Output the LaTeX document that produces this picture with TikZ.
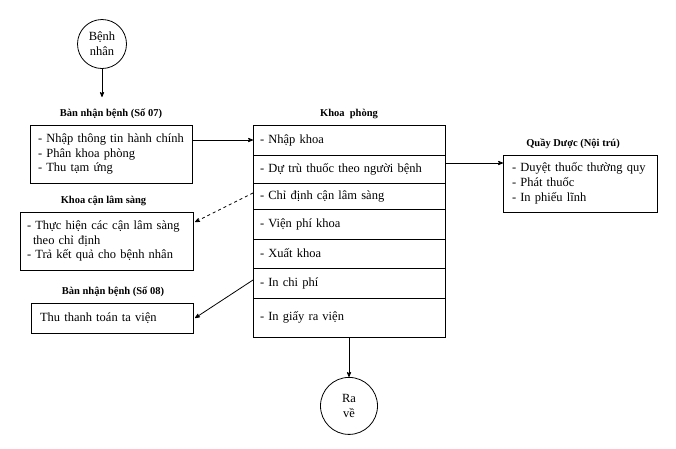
\documentclass[tikz,border=0pt]{standalone}
\usepackage{fontspec}
\setmainfont{Liberation Serif}
\usetikzlibrary{arrows, positioning}
\tikzset{>=stealth', font=\fontsize{12.5}{14.8}\selectfont}

\begin{document}
\begin{tikzpicture}[x=1pt,y=-1pt,line width=0.8pt,
                node distance=5pt]
\tikzstyle{circ}=[draw,circle,inner sep=0pt,align=center]
\tikzstyle{lbl}=[font=\fontsize{10.5}{12}\selectfont\bfseries,inner sep=1pt]
\tikzstyle{box}=[draw,anchor=north west,align=left,outer sep=0pt]
\tikzstyle{row}=[draw,minimum width=192pt,text width=178pt,inner xsep=7pt,
                 align=left,outer sep=0pt]

\fill[white] (0,0) rectangle (676,448);
\useasboundingbox (0,0) rectangle (676,448);

% patient in / out
\node[circ,minimum size=49pt] (BN) at (102,44) {Bệnh\\nhân};
\coordinate (BNend) at (102,97);

% left column
\node[box,text width=146pt,inner xsep=8pt,minimum height=58pt] (B07) at (30,125)
  {- Nhập thông tin hành chính\\- Phân khoa phòng\\- Thu tạm ứng};
\node[lbl,above=of B07] (L07) {Bàn nhận bệnh (Số 07)};

\node[box,text width=159pt,inner xsep=7pt,minimum height=58pt] (CLS) at (20,212)
  {- Thực hiện các cận lâm sàng\\\hspace*{6pt}theo chỉ định\\- Trả kết quả cho bệnh nhân};
\node[lbl,above=of CLS,xshift=-3pt] (LCLS) {Khoa cận lâm sàng};

\node[box,text width=144pt,inner xsep=9pt,minimum height=30pt] (B08) at (31,303)
  {Thu thanh toán ta viện};
\node[lbl,above=of B08,xshift=1pt] (L08) {Bàn nhận bệnh (Số 08)};

% Khoa phong
\node[row,anchor=north west,minimum height=30pt] (R1) at (253,125) {- Nhập khoa};
\node[row,below=0pt of R1,minimum height=28pt] (R2) {- Dự trù thuốc theo người bệnh};
\node[row,below=0pt of R2,minimum height=26pt] (R3) {- Chỉ định cận lâm sàng};
\node[row,below=0pt of R3,minimum height=30pt] (R4) {- Viện phí khoa};
\node[row,below=0pt of R4,minimum height=29pt] (R5) {- Xuất khoa};
\node[row,below=0pt of R5,minimum height=30pt] (R6) {- In chi phí};
\node[row,below=0pt of R6,minimum height=39pt] (R7) {- In giấy ra viện};
\node[lbl,above=of R1] (LKP) {Khoa\ \ phòng};

% Quay duoc
\node[box,text width=136pt,inner xsep=9pt,minimum height=57pt] (QD) at (503,155)
  {- Duyệt thuốc thường quy\\- Phát thuốc\\- In phiếu lĩnh};
\node[lbl,above=of QD,xshift=-7pt] (LQD) {Quầy Dược (Nội trú)};

\node[circ,minimum size=57pt,below=40pt of R7] (RV) {Ra\\về};

\coordinate (R2out) at ([yshift=6pt]R2.east);
\draw[->] (BN.south) -- (BNend);
\draw[->] (B07.east |- R1.west) -- (R1.west);
\draw[->] (R2out) -- (QD.west |- R2out);
\draw[->,dashed] ([yshift=3pt]R3.west) -- ([xshift=2pt,yshift=19pt]CLS.east);
\draw[->] ([yshift=3pt]R6.west) -- ([xshift=2pt]B08.east);
\draw[->] (R7.south) -- (RV.north);

\end{tikzpicture}
\end{document}
